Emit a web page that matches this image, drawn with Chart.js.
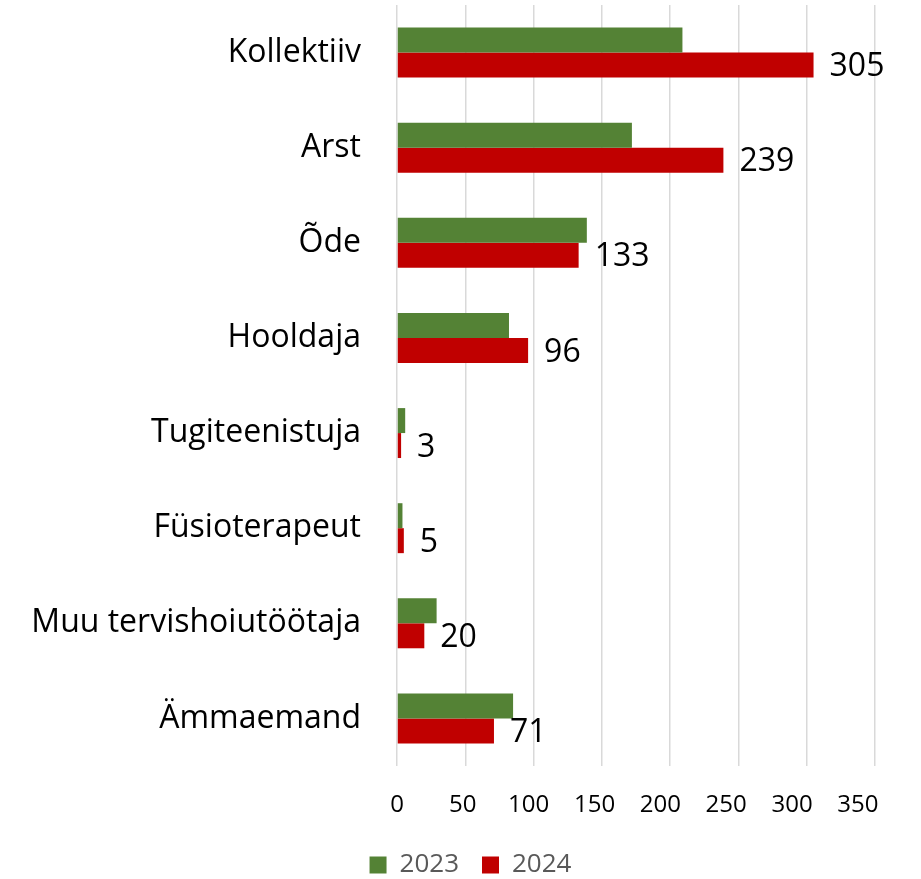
<!DOCTYPE html>
<html>
<head>
    <meta charset="utf-8">
    <title>Kollektiiv 2023 / 2024</title>
    <script src="https://cdn.jsdelivr.net/npm/chart.js"></script>
    <style>
        html, body { margin: 0; padding: 0; background: #fff; }
    </style>
</head>
<body>
    <canvas id="barChart" width="921" height="879"></canvas>

    <script>
        // data
        var categories = ['Kollektiiv', 'Arst', 'Õde', 'Hooldaja', 'Tugiteenistuja',
            'Füsioterapeut', 'Muu tervishoiutöötaja', 'Ämmaemand'];
        var values2023 = [209, 172, 139, 82, 6, 4, 29, 85];
        var values2024 = [305, 239, 133, 96, 3, 5, 20, 71];
        var xTicks = [0, 50, 100, 150, 200, 250, 300, 350];

        // value labels next to the 2024 bars
        var valueLabels = {
            id: 'valueLabels',
            afterLayout: function (chart) {
                // nudge the legend to where the original sits
                var lg = chart.legend;
                lg.left = 66;
                lg.top += 9;
                lg.bottom += 9;
            },
            afterDatasetsDraw: function (chart) {
                var ctx = chart.ctx;
                var meta = chart.getDatasetMeta(1);
                ctx.save();
                ctx.font = '32px "Open Sans"';
                ctx.fillStyle = '#000';
                ctx.textAlign = 'left';
                ctx.textBaseline = 'middle';
                meta.data.forEach(function (bar, i) {
                    ctx.fillText(String(values2024[i]), bar.x + 16, bar.y + 2);
                });
                ctx.restore();
            }
        };

        var ctx = document.getElementById('barChart').getContext('2d');
        var chart = new Chart(ctx, {
            type: 'bar',
            data: {
                labels: categories,
                datasets: [{
                    label: '2023',
                    data: values2023,
                    backgroundColor: '#548235',
                    barPercentage: 1,
                    categoryPercentage: 0.525
                }, {
                    label: '2024',
                    data: values2024,
                    backgroundColor: '#C00000',
                    barPercentage: 1,
                    categoryPercentage: 0.525
                }]
            },
            options: {
                indexAxis: 'y',
                responsive: false,
                animation: false,
                layout: {
                    padding: { top: 5, right: 46, left: 0, bottom: 0 }
                },
                plugins: {
                    tooltip: { enabled: false },
                    legend: {
                        position: 'bottom',
                        labels: {
                            boxWidth: 17,
                            boxHeight: 17,
                            padding: 23,
                            color: '#595959',
                            font: { family: 'Open Sans', size: 26, lineHeight: 1 }
                        }
                    }
                },
                scales: {
                    x: {
                        min: 0,
                        max: 350,
                        afterBuildTicks: function (scale) {
                            scale.ticks = xTicks.map(function (v) { return { value: v }; });
                        },
                        afterFit: function (scale) { scale.height = 0; },
                        grid: {
                            color: '#d9d9d9',
                            lineWidth: 1.5,
                            drawTicks: false
                        },
                        border: { display: false },
                        ticks: { display: false }
                    },
                    // tick labels sit a little tighter than the gridlines in the original
                    x2: {
                        axis: 'x',
                        position: 'bottom',
                        min: 0,
                        max: 363,
                        afterBuildTicks: function (scale) {
                            scale.ticks = xTicks.map(function (v) { return { value: v }; });
                        },
                        afterFit: function (scale) { scale.height = 54; },
                        grid: { display: false, drawTicks: false },
                        border: { display: false },
                        ticks: {
                            padding: 25,
                            color: '#000',
                            maxRotation: 0,
                            autoSkip: false,
                            font: { family: 'Open Sans', size: 24 }
                        }
                    },
                    y: {
                        afterFit: function (scale) {
                            scale.width = 397;
                            scale.paddingTop = 0;
                            scale.paddingBottom = 0;
                        },
                        grid: { display: false, drawTicks: false },
                        border: { display: false },
                        ticks: {
                            padding: 36,
                            color: '#000',
                            font: { family: 'Open Sans', size: 32 }
                        }
                    }
                }
            },
            plugins: [valueLabels]
        });
    </script>
</body>
</html>
